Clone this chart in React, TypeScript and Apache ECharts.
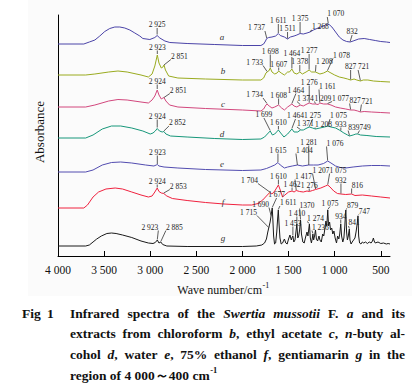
import React, { useEffect, useRef } from "react";
import * as echarts from "echarts";

// ---------- spectra: [wave number (cm^-1), offset absorbance] ----------
const curveA: number[][] = [[4000,212],[3720,212],[3660,214],[3600,216],[3547,220],[3493,224.5],[3439,227.5],[3384,229],[3330,229],[3276,228],[3221,226],[3167,223],[3113,220],[3080,217.5],[3004,216.5],[2950,218.5],[2925,220.5],[2896,218],[2841,215],[2787,213.5],[2600,212.5],[2300,211.5],[2000,210.5],[1800,210.5],[1770,212],[1750,215],[1737,217.5],[1715,218.5],[1680,219],[1640,220],[1611,222.5],[1590,220.5],[1545,219],[1511,217],[1480,219],[1440,220],[1410,221],[1375,222.5],[1340,222],[1300,223],[1268,224],[1230,226],[1180,228],[1120,230],[1080,232],[1060,231.5],[1030,229],[990,224],[950,219],[910,216],[870,214.5],[832,214],[800,215],[740,217],[680,217.5],[620,216.5],[560,215.5],[500,214.5],[440,214],[400,213.5]];
const curveB: number[][] = [[4000,181],[3700,181],[3600,182],[3450,184],[3350,185],[3250,184],[3100,181],[3020,179],[2980,182],[2950,190],[2923,201],[2905,193],[2880,188],[2862,189],[2851,191],[2835,186],[2800,180],[2700,178],[2400,177],[2000,176],[1800,176],[1770,178],[1745,183],[1733,184],[1715,185],[1698,188],[1680,184],[1650,182],[1625,183],[1607,185],[1580,183],[1545,181],[1510,184],[1490,184],[1464,187],[1440,183],[1410,182],[1378,184],[1350,182],[1310,184],[1277,186],[1250,184],[1208,184],[1160,182],[1120,183],[1078,185],[1040,183],[1000,181],[950,179],[900,178],[860,177],[827,176],[790,177],[760,176],[721,175],[690,176],[640,176],[580,175],[500,174.5],[400,174]];
const curveC: number[][] = [[4000,149],[3700,149],[3600,151],[3450,155],[3350,156.5],[3250,156],[3100,154],[3020,153],[2980,156],[2950,160],[2924,166],[2905,161],[2880,157],[2862,158],[2851,158.5],[2830,155],[2790,151],[2700,149],[2400,147.5],[2000,146],[1800,145],[1770,147],[1745,151],[1734,152],[1710,150],[1680,148],[1650,149],[1608,151],[1575,148],[1545,146],[1510,149],[1464,152],[1440,150],[1410,149],[1374,151],[1340,150],[1300,152],[1276,153],[1240,152],[1209,152],[1180,151.5],[1161,153],[1120,152],[1077,152],[1040,151],[990,149],[940,148],[880,147],[827,146],[790,146],[750,145],[721,144],[680,144.5],[600,144],[500,143.5],[400,143]];
const curveD: number[][] = [[4000,118],[3700,118],[3620,121],[3520,127],[3420,130],[3320,130],[3200,128],[3080,125],[3000,122],[2970,123],[2945,125],[2924,127.5],[2900,125],[2870,124],[2852,124.5],[2830,122],[2780,120],[2600,119],[2300,117.5],[2000,116.5],[1800,117],[1760,119],[1730,122],[1699,125],[1675,121],[1650,122],[1610,126],[1585,123],[1550,119],[1510,122],[1464,127],[1440,124],[1400,124],[1371,126],[1340,126],[1300,128],[1275,129],[1240,128],[1208,127],[1160,128],[1110,129],[1075,130],[1040,129],[990,128],[950,126],[933,125],[900,123],[860,121],[839,120],[800,121],[770,122],[749,122],[720,121],[650,120.5],[550,119.5],[400,119]];
const curveE: number[][] = [[4000,84],[3700,84],[3620,86],[3520,91],[3420,93.5],[3320,94],[3200,93],[3050,91],[2960,90],[2935,91],[2923,91.5],[2905,90],[2850,89],[2700,88],[2400,86.5],[2000,85.5],[1800,86],[1740,87.5],[1700,89],[1650,91],[1615,93.5],[1590,91],[1545,88],[1510,89],[1460,90],[1404,91],[1350,90],[1281,91],[1230,91],[1180,91],[1120,92.5],[1076,95],[1040,93],[990,90],[940,88.5],[880,88],[800,89],[700,90],[600,90.5],[500,90.5],[400,90]];
const curveF: number[][] = [[4000,48],[3720,48],[3680,51],[3620,59],[3560,64],[3480,67],[3380,68],[3300,67],[3200,64],[3100,61],[3020,59],[2980,60],[2950,64],[2924,68],[2905,64.5],[2880,63],[2853,62.5],[2820,60],[2760,57.5],[2600,55.5],[2400,53.5],[2200,52],[2000,51],[1900,51],[1830,52.5],[1780,56],[1740,60],[1704,63.5],[1680,62],[1650,65],[1610,71],[1590,66],[1565,59],[1540,61],[1500,64],[1462,65],[1440,64],[1417,65.5],[1380,64.5],[1340,64],[1300,65],[1276,64.5],[1240,65.5],[1207,66.5],[1150,68],[1100,70],[1075,71],[1050,69],[1010,65],[970,62.5],[932,62],[880,61.5],[816,62],[780,60.5],[700,61],[600,60],[500,59],[400,58]];
const curveG: number[][] = [[4000,10],[3700,10],[3660,11],[3620,14],[3580,17],[3530,20],[3470,22.5],[3420,23],[3370,22.5],[3300,21],[3200,18.5],[3100,15],[3020,13],[2970,12.5],[2945,13.5],[2923,16],[2905,13],[2885,14],[2865,11.5],[2820,10],[2600,9.5],[2200,9.5],[2000,9.5],[1850,10],[1790,11],[1760,13],[1740,17],[1725,24],[1715,28],[1700,34],[1690,40],[1684,44],[1677,48],[1670,36],[1662,20],[1652,12],[1640,13],[1628,24],[1618,38],[1611,46],[1603,32],[1593,18],[1580,12],[1565,13],[1545,17],[1530,13],[1515,12],[1500,17],[1485,21],[1470,16],[1460,19],[1453,20],[1443,14],[1430,16],[1420,24],[1410,32],[1400,18],[1390,20],[1380,26],[1370,36],[1360,22],[1345,14],[1330,13],[1315,19],[1300,24],[1290,20],[1282,26],[1274,32],[1264,18],[1252,13],[1242,18],[1236,22],[1228,16],[1218,20],[1208,26],[1198,17],[1185,15],[1170,20],[1160,16],[1145,14],[1130,22],[1118,20],[1105,28],[1095,35],[1085,30],[1075,46],[1066,30],[1055,34],[1045,26],[1032,28],[1020,22],[1008,25],[995,18],[980,13],[968,20],[955,17],[945,22],[934,32],[925,20],[912,14],[900,18],[890,30],[884,40],[879,46],[871,24],[862,16],[852,20],[846,24],[841,27],[834,16],[822,12],[810,14],[795,16],[780,18],[768,24],[756,32],[747,40],[740,20],[730,13],[715,12],[700,14],[685,13],[665,14],[645,12.5],[625,14],[605,13],[590,15],[580,18],[572,15],[560,13],[530,14],[500,12.5],[470,13],[440,12],[420,12.5],[400,12]];

// ---------- peak annotations: [peak wn, curve value, label anchor wn, label anchor value, text, align] ----------
type Anno = [number, number, number, number, string, string];
const annoA: Anno[] = [[2925,221.5,2925,228,"2 925","center"],[1737,218,1756,225,"1 737","right"],[1611,223,1611,232,"1 611","center"],[1511,217.5,1511,224,"1 511","center"],[1375,223,1375,234,"1 375","center"],[1268,224.5,1246,226,"1 268","left"],[1070,233,1080,239,"1 070","left"],[832,214.5,811,221,"832","center"]];
const annoB: Anno[] = [[2923,202,2923,205.5,"2 923","center"],[2851,191,2776,196.5,"2 851","left"],[1733,184.5,1777,190.5,"1 733","right"],[1698,188.5,1698,201.5,"1 698","center"],[1607,185.5,1607,188.5,"1 607","center"],[1464,187.5,1464,199,"1 464","center"],[1378,184.5,1378,191,"1 378","center"],[1277,186.5,1277,202,"1 277","center"],[1208,184.5,1203,191,"1 208","left"],[1078,185.5,1018,197.5,"1 078","left"],[827,176.5,827,186,"827","center"],[721,175.5,746,186,"721","left"]];
const annoC: Anno[] = [[2924,167,2924,171.5,"2 924","center"],[2851,158.5,2787,162.5,"2 851","left"],[1734,152.5,1777,158,"1 734","right"],[1608,151.5,1608,157.5,"1 608","center"],[1464,152.5,1420,162.5,"1 464","center"],[1374,151.5,1409,154.5,"1 374","left"],[1276,153.5,1276,170.5,"1 276","center"],[1209,152.5,1219,154.5,"1 209","left"],[1161,153.5,1170,166.5,"1 161","left"],[1077,152.5,1028,154.5,"1 077","left"],[827,146.5,838,152.5,"827","left"],[721,144.5,710,151.5,"721","left"]];
const annoD: Anno[] = [[2924,128.5,2924,136.5,"2 924","center"],[2852,125,2797,130,"2 852","left"],[1699,125.5,1767,138,"1 699","center"],[1610,126.5,1610,130,"1 610","center"],[1464,127.5,1425,137,"1 464","center"],[1371,126.5,1409,129,"1 371","left"],[1275,129.5,1240,137,"1 275","center"],[1208,127.5,1213,128.5,"1 208","left"],[1075,130.5,1050,137,"1 075","left"],[933,125.5,933,128.5,"933","center"],[839,120.5,854,125.5,"839","left"],[749,122.5,730,125.5,"749","left"]];
const annoE: Anno[] = [[2923,92,2923,100.5,"2 923","center"],[1615,94,1615,102.5,"1 615","center"],[1404,91,1420,102.5,"1 404","left"],[1281,91,1281,110.5,"1 281","center"],[1076,95.5,1088,109.5,"1 076","left"]];
const annoF: Anno[] = [[2924,68.5,2924,71.5,"2 924","center"],[2853,63,2787,66.5,"2 853","left"],[1704,64,1832,72.5,"1 704","right"],[1610,71.5,1610,76.5,"1 610","center"],[1462,65.5,1462,68.5,"1 462","center"],[1417,66,1430,76.5,"1 417","left"],[1276,65,1276,67.5,"1 276","center"],[1207,67,1240,82.5,"1 207","left"],[1075,71.5,1055,82.5,"1 075","left"],[932,62.5,932,72.5,"932","center"],[816,62.5,816,67.5,"816","left"]];
const annoG: Anno[] = [[2923,16.5,2912,25.5,"2 923","right"],[2885,14.5,2830,25.5,"2 885","left"],[1715,28.5,1843,40.5,"1 715","right"],[1690,40.5,1712,48.5,"1 690","right"],[1677,48.5,1630,58,"1 677","center"],[1611,46.5,1594,50,"1 611","left"],[1453,20.5,1453,29.5,"1 453","center"],[1410,32.5,1410,39.5,"1 410","center"],[1370,36.5,1380,47.5,"1370","left"],[1274,32.5,1300,34.5,"1 274","left"],[1236,22.5,1246,25.5,"1 236","left"],[1075,46.5,1050,49.5,"1 075","center"],[934,32.5,934,36.5,"934","center"],[879,46.5,865,47.5,"879","left"],[841,27.5,850,30,"841","left"],[747,40.5,740,41.5,"747","left"]];

// curve letters: [wn, value]
const letterNames = ["a", "b", "c", "d", "e", "f", "g"];
const letterPos: number[][] = [[2223,219],[2212,185],[2212,152],[2223,122],[2223,92],[2212,54],[2212,18]];

const tickValues = [4000, 3500, 3000, 2500, 2000, 1500, 1000, 500];
const colors = ["#4b44a8", "#9aab1f", "#d2477d", "#17977a", "#524cb0", "#f0223f", "#1a1a1a"];
const curves = [curveA, curveB, curveC, curveD, curveE, curveF, curveG];
const annos = [annoA, annoB, annoC, annoD, annoE, annoF, annoG];

const captionLines = [
  "Infrared spectra of the *Swertia* *mussotii* F. *a* and its",
  "extracts from chloroform *b*, ethyl acetate *c*, *n*-buty al-",
  "cohol *d*, water *e*, 75% ethanol *f*, gentiamarin *g* in the",
  "region of 4 000～400 cm",
];

const SERIF = "Liberation Serif";

export default function App() {
  const ref = useRef<HTMLDivElement>(null);
  useEffect(() => {
    const chart = echarts.init(ref.current!, null, { renderer: "svg" });
    const cv = document.createElement("canvas").getContext("2d")!;
    const measure = (t: string, font: string) => { cv.font = font; return cv.measureText(t).width; };

    const CAP_SIZE = 13.5;
    const capFont = (it: boolean) => `${it ? "italic " : ""}bold ${CAP_SIZE}px "${SERIF}"`;
    const capLeft = 70, capRight = 405;
    const capY = [313, 333.5, 354, 375];
    const graphics: any[] = [];

    graphics.push({ type: "rect", z: -10, shape: { x: 28, y: 0, width: 384, height: 296 }, style: { fill: "#fbfbfb" }, silent: true });

    captionLines.forEach((line, li) => {
      const words = line.split(" ").map((w) => w.split("*").map((t, k) => ({ t, i: k % 2 === 1 })).filter((s) => s.t));
      const widths = words.map((ws) => ws.reduce((s, seg) => s + measure(seg.t, capFont(seg.i)), 0));
      const total = widths.reduce((a, b) => a + b, 0);
      const last = li === captionLines.length - 1;
      const gap = last ? measure(" ", capFont(false)) : (capRight - capLeft - total) / (words.length - 1);
      let x = capLeft;
      words.forEach((ws, wi) => {
        let sx = x;
        ws.forEach((seg) => {
          graphics.push({ type: "text", x: sx, y: capY[li], style: { text: seg.t, fontFamily: SERIF, fontSize: CAP_SIZE, fontWeight: "bold", fontStyle: seg.i ? "italic" : "normal", fill: "#111", align: "left", verticalAlign: "middle" } });
          sx += measure(seg.t, capFont(seg.i));
        });
        x += widths[wi] + gap;
      });
      if (last) {
        const ex = x - gap + 0.5;
        graphics.push({ type: "text", x: ex, y: capY[li] - 5, style: { text: "-1", fontFamily: SERIF, fontSize: 8.5, fontWeight: "bold", fill: "#111", align: "left", verticalAlign: "middle" } });
      }
    });
    graphics.push({ type: "text", x: 22, y: capY[0], style: { text: "Fig", fontFamily: SERIF, fontSize: CAP_SIZE, fontWeight: "bold", fill: "#111", verticalAlign: "middle" } });
    graphics.push({ type: "text", x: 47, y: capY[0], style: { text: "1", fontFamily: SERIF, fontSize: CAP_SIZE, fontWeight: "bold", fill: "#111", verticalAlign: "middle" } });

    // axis names
    const nameMain = "Wave number/cm";
    const nmW = measure(nameMain, `12px "${SERIF}"`);
    const supW = measure("-1", `8px "${SERIF}"`);
    const nx = 223 - (nmW + supW) / 2;
    graphics.push({ type: "text", x: nx, y: 290, style: { text: nameMain, fontFamily: SERIF, fontSize: 12, fill: "#111", verticalAlign: "middle" } });
    graphics.push({ type: "text", x: nx + nmW + 0.5, y: 285.5, style: { text: "-1", fontFamily: SERIF, fontSize: 8, fill: "#111", verticalAlign: "middle" } });
    graphics.push({ type: "text", x: 39, y: 132, rotation: Math.PI / 2, style: { text: "Absorbance", fontFamily: SERIF, fontSize: 13, fill: "#111", align: "center", verticalAlign: "middle" } });

    const lineSeries = curves.map((c, i) => ({
      type: "line", data: c, symbol: "none", showSymbol: false, silent: true,
      lineStyle: { color: colors[i], width: 1 }, itemStyle: { color: colors[i] }, z: 2,
    }));

    const annoSeries = annos.map((list) => ({
      type: "custom", silent: true, z: 5,
      data: list.map((a) => [a[0], a[1], a[2], a[3]]),
      encode: { x: [0, 2], y: [1, 3] },
      renderItem: (params: any, api: any) => {
        const a = list[params.dataIndex];
        const p0 = api.coord([api.value(0), api.value(1)]);
        const p1 = api.coord([api.value(2), api.value(3)]);
        return {
          type: "group",
          children: [
            { type: "line", shape: { x1: p0[0], y1: p0[1], x2: p1[0], y2: p1[1] }, style: { stroke: "#333", lineWidth: 0.8 } },
            { type: "text", x: p1[0], y: p1[1] + 0.5, style: { text: a[4], align: a[5], verticalAlign: "bottom", fontFamily: SERIF, fontSize: 7.5, fill: "#222" } },
          ],
        };
      },
    }));

    const letterSeries = {
      type: "custom", silent: true, z: 5,
      data: letterPos,
      renderItem: (params: any, api: any) => {
        const p = api.coord([api.value(0), api.value(1)]);
        return { type: "text", x: p[0], y: p[1], style: { text: letterNames[params.dataIndex], align: "center", verticalAlign: "middle", fontFamily: SERIF, fontStyle: "italic", fontSize: 9, fill: "#333" } };
      },
    };

    chart.setOption({
      animation: false,
      grid: { left: 58, right: 30, top: 15, bottom: 132, containLabel: false },
      xAxis: {
        type: "value", inverse: true, min: 400, max: 4000,
        axisLine: { show: true, lineStyle: { color: "#000", width: 1 } },
        axisTick: { show: true, inside: true, length: 5, customValues: tickValues, lineStyle: { color: "#000" } },
        axisLabel: {
          customValues: tickValues, margin: 8, fontFamily: SERIF, fontSize: 11.5, color: "#111",
          formatter: (v: number) => (v >= 1000 ? `${Math.floor(v / 1000)} ${String(v % 1000).padStart(3, "0")}` : String(v)),
        },
        splitLine: { show: false },
      },
      yAxis: {
        type: "value", min: 0, max: 241,
        axisLine: { show: true, lineStyle: { color: "#000", width: 1 } },
        axisTick: { show: false }, axisLabel: { show: false }, splitLine: { show: false },
      },
      graphic: graphics,
      series: [...lineSeries, ...annoSeries, letterSeries],
    });
    return () => chart.dispose();
  }, []);
  return <div ref={ref} style={{ position: "absolute", left: 0, top: 0, width: 420, height: 388 }} />;
}
